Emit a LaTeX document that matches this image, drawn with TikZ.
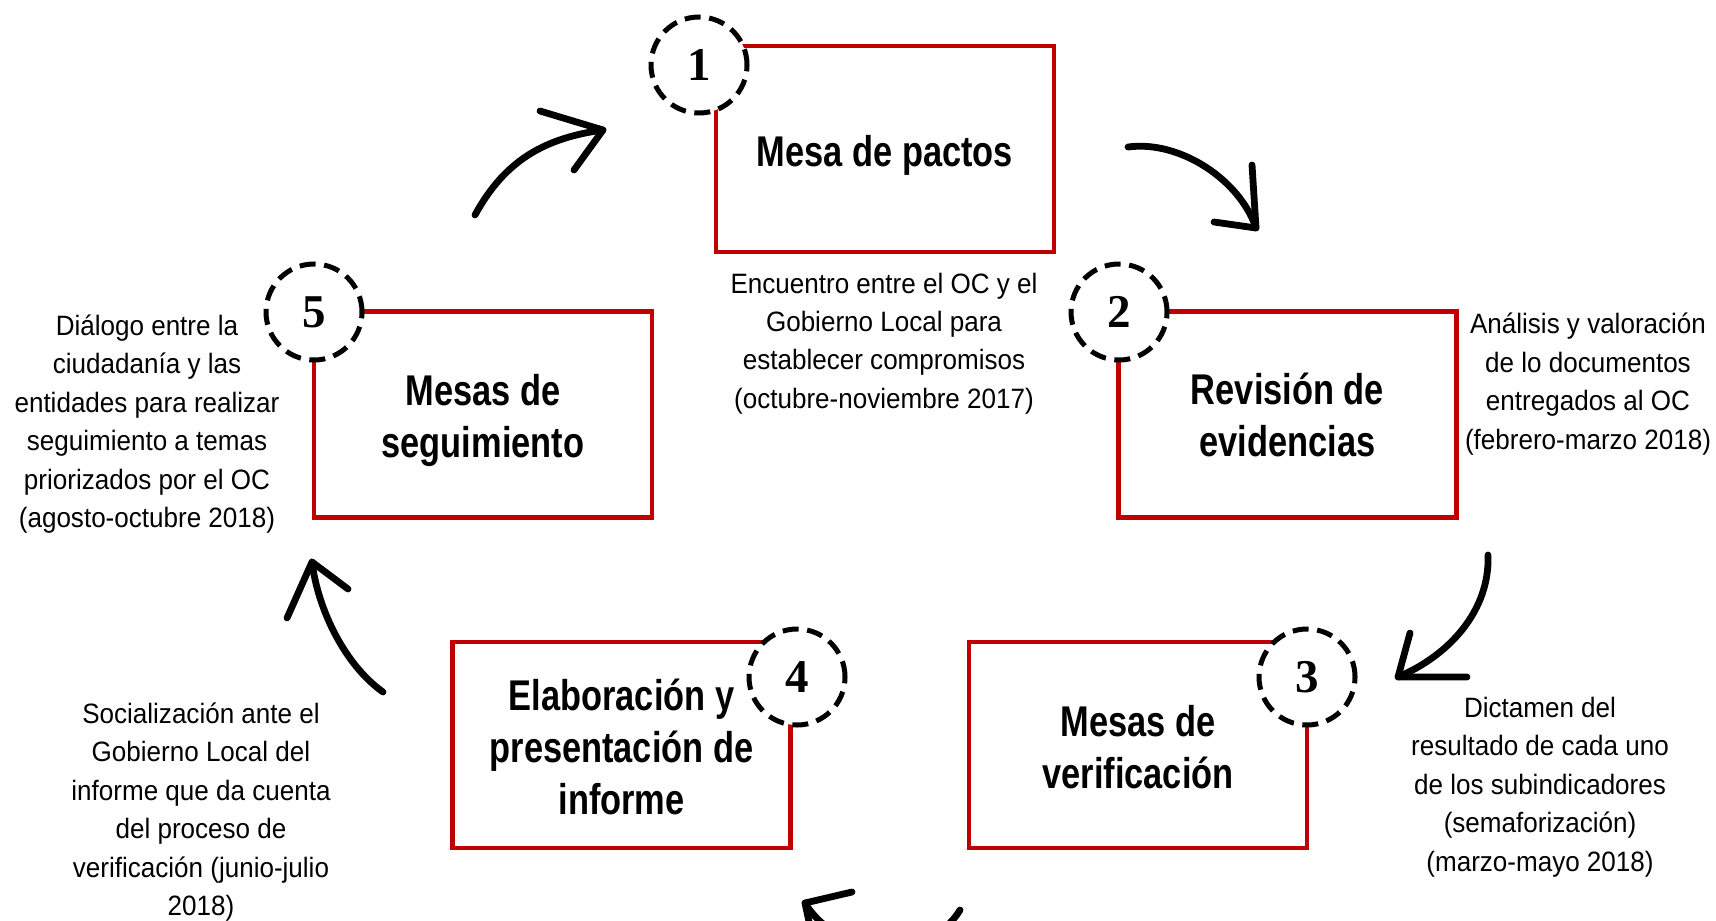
\documentclass[tikz,border=0pt]{standalone}
\usepackage{fontspec}
\setmainfont{Liberation Sans}
\newfontfamily\tfont[FakeStretch=0.8]{Liberation Sans Bold}
\newfontfamily\dfont[FakeStretch=0.93]{Liberation Sans}
\newfontfamily\nfont{Liberation Serif Bold}
\definecolor{boxred}{HTML}{C00000}
\begin{document}
\begin{tikzpicture}[x=0.5pt,y=-0.5pt,
  stagebox/.style={draw=boxred,line width=2.2pt,fill=white,minimum width=169pt,minimum height=103pt,inner sep=0pt},
  stagetext/.style={align=center,inner sep=0pt,font=\tfont\fontsize{21.5pt}{26pt}\selectfont},
  numcirc/.style={circle,draw=black,fill=white,line width=2.5pt,dash pattern=on 8pt off 4.3pt,minimum size=48pt,inner sep=0pt,font=\nfont\fontsize{23.5pt}{24pt}\selectfont},
  desc/.style={align=center,inner sep=0pt,font=\dfont\fontsize{14pt}{19.2pt}\selectfont},
  hand/.style={draw=black,line width=3.4pt,line cap=round,line join=round}]
\useasboundingbox (0,0) rectangle (1716,920);
\clip (0,0) rectangle (1716,920);
% boxes
\node[stagebox] (b1) at (885,149) {};
\node[stagebox] (b2) at (1287.5,414.5) {};
\node[stagebox] (b3) at (1138,745) {};
\node[stagebox] (b4) at (621.5,745) {};
\node[stagebox] (b5) at (483,414.5) {};
\node[stagetext] (t1) at (885,155.5) {Mesa de pactos};
\node[stagetext] (t2) at (1287.5,415) {Revisión de\\evidencias};
\node[stagetext] (t3) at (1138,747.5) {Mesas de\\verificación};
\node[stagetext] (t4) at (621.5,747) {Elaboración y\\presentación de\\informe};
\node[stagetext] (t5) at (483,420.5) {Mesas de\\seguimiento};
% numbers
\node[numcirc] (n1) at (699,65) {1};
\node[numcirc] (n2) at (1119,312) {2};
\node[numcirc] (n3) at (1307,677) {3};
\node[numcirc] (n4) at (797,677) {4};
\node[numcirc] (n5) at (314,312) {5};
% descriptions
\node[desc] (d1) at (884,343.5) {Encuentro entre el OC y el\\Gobierno Local para\\establecer compromisos\\(octubre-noviembre 2017)};
\node[desc] (d2) at (1588,384) {Análisis y valoración\\de lo documentos\\entregados al OC\\(febrero-marzo 2018)};
\node[desc] (d3) at (1540,787) {Dictamen del\\resultado de cada uno\\de los subindicadores\\(semaforización)\\(marzo-mayo 2018)};
\node[desc] (d4) at (201,812) {Socialización ante el\\Gobierno Local del\\informe que da cuenta\\del proceso de\\verificación (junio-julio\\2018)};
\node[desc] (d5) at (147,424) {Diálogo entre la\\ciudadanía y las\\entidades para realizar\\seguimiento a temas\\priorizados por el OC\\(agosto-octubre 2018)};
% hand-drawn arrows
\coordinate (a1s) at (475,215); \coordinate (a1t) at (603,130);
\draw[hand] (a1s) .. controls (505,160) and (545,138) .. (a1t);
\draw[hand] (540,111) -- (a1t) -- (574,170);
\coordinate (a2s) at (1128,147); \coordinate (a2t) at (1256,228);
\draw[hand] (a2s) .. controls (1180,140) and (1240,180) .. (a2t);
\draw[hand] (1252,165) -- (a2t) -- (1214,222);
\coordinate (a3s) at (1488,555); \coordinate (a3t) at (1398,677);
\draw[hand] (a3s) .. controls (1490,610) and (1450,655) .. (a3t);
\draw[hand] (1410,633) -- (a3t) -- (1467,677);
\coordinate (a4s) at (960,910); \coordinate (a4t) at (805,903);
\draw[hand] (a4s) .. controls (930,960) and (840,960) .. (a4t);
\draw[hand] (852,892) -- (a4t) -- (815,950);
\coordinate (a5s) at (383,692); \coordinate (a5t) at (312,562);
\draw[hand] (a5s) .. controls (345,665) and (318,610) .. (a5t);
\draw[hand] (287,618) -- (a5t) -- (348,589);
\end{tikzpicture}
\end{document}
